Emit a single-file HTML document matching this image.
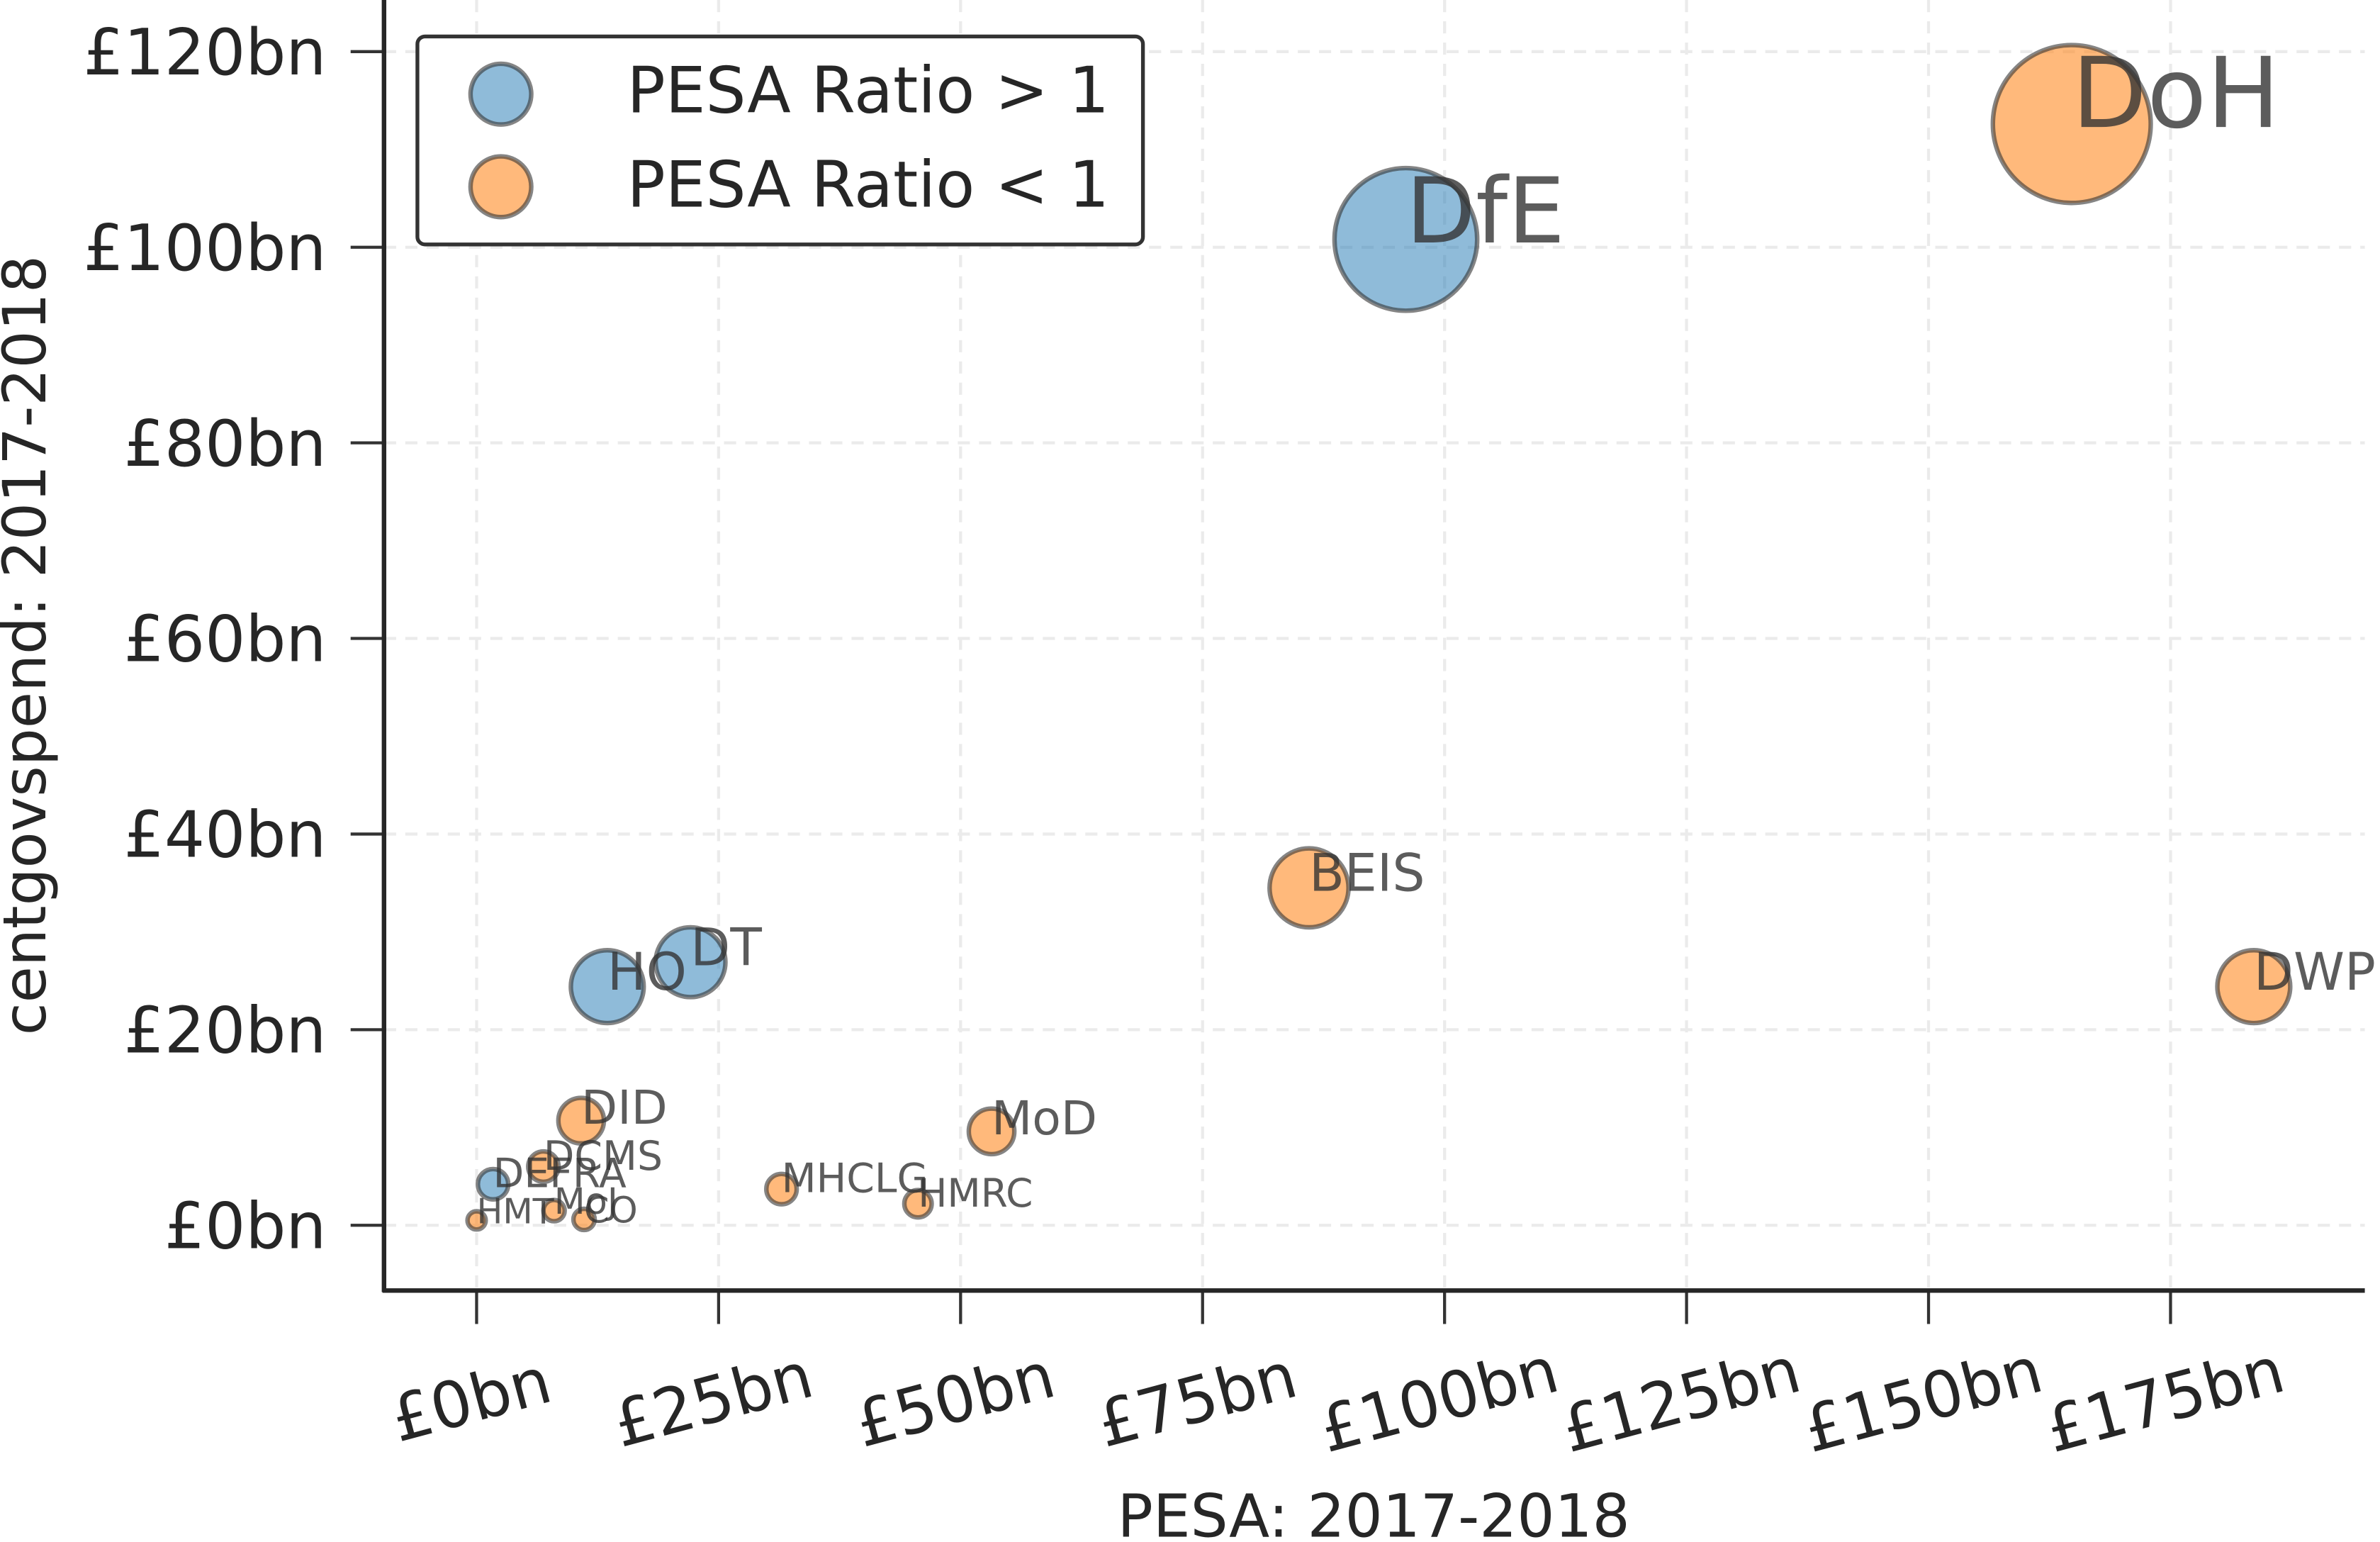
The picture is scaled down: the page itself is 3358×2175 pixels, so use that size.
<!DOCTYPE html>
<html><head><meta charset="utf-8"><style>
html,body{margin:0;padding:0;background:#fff;}
svg{display:block;font-family:"DejaVu Sans","Liberation Sans",sans-serif;}
</style></head><body>
<svg id="chart" width="3358" height="2175" viewBox="0 0 1568 1015.6" xmlns="http://www.w3.org/2000/svg">
<g id="grid"></g>
<g id="axes"></g>
<g id="marks"></g>
<g id="legend">
  <rect x="275" y="24" width="478" height="137" rx="5" fill="#fff" stroke="#333" stroke-width="2.5"/>
  <circle cx="330" cy="62" r="20" fill="#1f77b4" fill-opacity="0.5" stroke="#333" stroke-opacity="0.6" stroke-width="3"/>
  <text x="413" y="74" font-size="42" fill="#262626">PESA Ratio &gt; 1</text>
  <circle cx="330" cy="123" r="20" fill="#ff7f0e" fill-opacity="0.55" stroke="#333" stroke-opacity="0.6" stroke-width="3"/>
  <text x="413" y="136" font-size="42" fill="#262626">PESA Ratio &lt; 1</text>
</g>
<text transform="translate(30,425) rotate(-90)" text-anchor="middle" font-size="39" fill="#262626">centgovspend: 2017-2018</text>
<text x="905" y="1012" text-anchor="middle" font-size="39" fill="#262626">PESA: 2017-2018</text>
</svg>
<script>
const labels = ["DoH","DfE","BEIS","DWP","HO","DT","DID","MoD","MHCLG","HMRC","DCMS","DEFRA","HMT","MoJ","CO"];
const pesa = [164.8,96.0,86.0,183.6,13.5,22.1,10.8,53.2,31.5,45.6,6.9,1.7,0.0,8.0,11.1];
const spend = [112.6,100.8,34.5,24.4,24.4,26.9,10.7,9.6,3.7,2.2,6.0,4.2,0.5,1.5,0.6];
const radius = [52,47,26,24,24,23,15,15,10,9,10,10,6,7,7];
const ratioAbove1 = [false,true,false,false,true,true,false,false,false,false,false,true,false,false,false];
const xTicks = [0,25,50,75,100,125,150,175];
const yTicks = [0,20,40,60,80,100,120];

const NS="http://www.w3.org/2000/svg";
const X0=314, XS=(1430-314)/175, Y0=807, YS=(807-34)/120;
const xs=v=>X0+v*XS, ys=v=>Y0-v*YS;
function mk(tag,attrs,parent,txt){const e=document.createElementNS(NS,tag);for(const k in attrs)e.setAttribute(k,attrs[k]);if(txt!==undefined)e.textContent=txt;parent.appendChild(e);return e;}
const grid=document.getElementById('grid'),axes=document.getElementById('axes'),marks=document.getElementById('marks');
xTicks.forEach(t=>{
  const g=mk('line',{x1:xs(t),x2:xs(t),y1:0,y2:850,stroke:'#ebebeb','stroke-width':2,'stroke-dasharray':'8,6'},grid);
  
  
  const tk=mk('line',{x1:xs(t),x2:xs(t),y1:850,y2:872,stroke:'#333','stroke-width':2},axes);
  
  
  const lb=mk('text',{transform:`translate(${xs(t)},${936}) rotate(-15)`,'text-anchor':'middle','font-size':42,fill:'#262626'},axes,'£'+t+'bn');
  
  
});
yTicks.forEach(t=>{
  const g=mk('line',{x1:253,x2:1558,y1:ys(t),y2:ys(t),stroke:'#ebebeb','stroke-width':2,'stroke-dasharray':'8,6'},grid);
  
  
  const tk=mk('line',{x1:231,x2:253,y1:ys(t),y2:ys(t),stroke:'#333','stroke-width':2},axes);
  
  
  const lb=mk('text',{x:215,y:ys(t)+15,'text-anchor':'end','font-size':42,fill:'#262626'},axes,'£'+t+'bn');
  
  
});
const ls=mk('line',{x1:253,x2:253,y1:0,y2:851,stroke:'#262626','stroke-width':3},axes);


const bs=mk('line',{x1:252,x2:1558,y1:850,y2:850,stroke:'#262626','stroke-width':3},axes);


labels.forEach((l,i)=>{
  const cx=xs(pesa[i]),cy=ys(spend[i]);
  const c=mk('circle',{cx:cx,cy:cy,r:radius[i],fill:ratioAbove1[i]?'#1f77b4':'#ff7f0e','fill-opacity':ratioAbove1[i]?0.5:0.55,stroke:'#333','stroke-opacity':0.6,'stroke-width':3},marks);
  
  
});
labels.forEach((l,i)=>{
  const cx=xs(pesa[i]),cy=ys(spend[i]);
  const r=radius[i];
  const fs=(r>20&&r<30)?34:(14+r*0.72)*1.25;
  const t=mk('text',{x:cx,y:cy+2,'font-size':fs,fill:'#333','fill-opacity':0.8},marks,l);
  
  
});
</script>
</body></html>
